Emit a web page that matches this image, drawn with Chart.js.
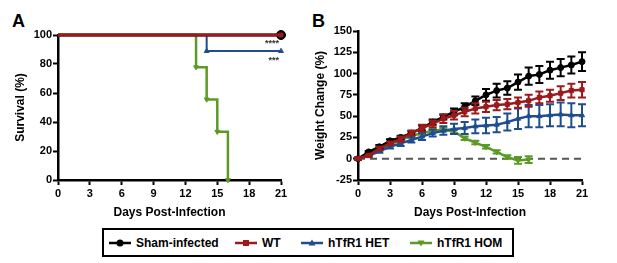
<!DOCTYPE html>
<html>
<head>
<meta charset="utf-8">
<script src="https://cdn.jsdelivr.net/npm/chart.js@4.4.1/dist/chart.umd.min.js"></script>
<style>
  body { margin: 0; background: #fff; font-family: "Liberation Sans", Arial, sans-serif; }
  #wrap { position: relative; width: 617px; height: 263px; }
  .panel { position: absolute; top: 0; }
  .tag { position: absolute; top: 12px; font-size: 18px; font-weight: bold; line-height: 18px; }
  #legend { position: absolute; left: 102px; top: 228px; width: 408px; height: 25px; border: 2px solid #000; }
  .item { position: absolute; top: 0; height: 25px; display: flex; align-items: center; font-size: 12px; font-weight: bold; }
  .item svg { margin-right: 5px; }
</style>
</head>
<body>
<div id="wrap">
  <div class="tag" style="left:12px">A</div>
  <div class="tag" style="left:312px">B</div>
  <canvas id="chartA" class="panel" style="left:0" width="300" height="222"></canvas>
  <canvas id="chartB" class="panel" style="left:300px" width="317" height="222"></canvas>
  <div id="legend"></div>
</div>
<script>
// groups
const groups = ['Sham-infected', 'WT', 'hTfR1 HET', 'hTfR1 HOM'];
const colors = ['#000000', '#9c1a1c', '#1f4e8f', '#5b9b25'];

// panel A: survival (%) at event days
const shamDays = [0, 21], shamSurv = [100, 100];
const wtDays = [0, 21], wtSurv = [100, 100];
const hetDays = [0, 14, 21], hetSurv = [100, 88.9, 88.9];
const homDays = [0, 13, 14, 15, 16], homSurv = [100, 77.8, 55.6, 33.3, 0];
const stars = [['****', 100], ['***', 88.9]];

// panel B: weight change (%) with error bars
const days = [0,1,2,3,4,5,6,7,8,9,10,11,12,13,14,15,16,17,18,19,20,21];
const shamW = [0,8,14,21,25,30,36,43,49,55,61,68,75,80,83,90,97,99,104,107,110,114];
const shamE = [1,1,2,2,2,2,3,3,3,4,4,5,7,8,8,9,10,10,10,10,10,11];
const wtW = [0,4,12,18,23,30,36,41,47,51,55,59,61,63,64,66,68,72,74,77,80,81];
const wtE = [1,1,2,2,3,3,4,4,5,5,5,6,6,6,6,6,7,7,7,8,8,9];
const hetW = [0,3,9,14,18,22,26,30,33,35,36,38,39,40,43,47,50,50,51,52,51,51];
const hetE = [1,1,2,2,3,3,4,4,5,6,7,8,9,9,10,12,13,13,13,14,14,13];
const homW = [0,5,11,17,22,27,30,33,34,32,24,19,14,8,2,-2,-1];
const homE = [1,1,2,2,2,2,2,2,2,2,2,2,2,2,2,4,4];

const pts = (xs, ys) => xs.map((d, i) => ({x: d, y: ys[i]}));
const tickFont = {family: 'Liberation Sans', size: 11, weight: 'bold'};
const titleFont = {family: 'Liberation Sans', size: 12, weight: 'bold'};

function axes(yMin, yMax, yStep, yTitle) {
  const grid = {drawOnChartArea: false, drawTicks: true, tickLength: 5, tickColor: '#000', tickWidth: 2};
  return {
    x: {
      type: 'linear', min: 0, max: 21,
      ticks: {stepSize: 3, color: '#000', font: tickFont, padding: 2, maxRotation: 0},
      grid: grid, border: {color: '#000', width: 2.5},
      title: {display: true, text: 'Days Post-Infection', color: '#000', font: titleFont, padding: {top: 0, bottom: 2}},
      afterFit: s => { s.height = 42; }
    },
    y: {
      min: yMin, max: yMax,
      ticks: {stepSize: yStep, color: '#000', font: tickFont, padding: 1},
      grid: grid, border: {color: '#000', width: 2.5},
      title: {display: true, text: yTitle, color: '#000', font: titleFont, padding: {top: 13, bottom: 0}},
      afterFit: s => { s.width = 58; }
    }
  };
}

const starPlugin = {
  id: 'stars',
  afterDatasetsDraw(chart) {
    const {ctx, scales: {x, y}} = chart;
    ctx.save();
    ctx.font = 'bold 9px "Liberation Sans"';
    ctx.fillStyle = '#333';
    ctx.textAlign = 'right';
    ctx.textBaseline = 'middle';
    stars.forEach(([s, v]) => ctx.fillText(s, x.getPixelForValue(21) - 2, y.getPixelForValue(v) + 9));
    ctx.restore();
  }
};

const errPlugin = {
  id: 'errBars',
  afterDatasetDraw(chart, args) {
    const ds = chart.data.datasets[args.index];
    if (!ds.err) return;
    const {ctx, scales: {y}} = chart;
    ctx.save();
    ctx.strokeStyle = ds.borderColor;
    ctx.lineWidth = 2;
    args.meta.data.forEach((p, i) => {
      const v = ds.data[i].y, e = ds.err[i];
      const t = y.getPixelForValue(v + e), b = y.getPixelForValue(v - e);
      ctx.beginPath();
      ctx.moveTo(p.x, t); ctx.lineTo(p.x, b);
      ctx.moveTo(p.x - 4, t); ctx.lineTo(p.x + 4, t);
      ctx.moveTo(p.x - 4, b); ctx.lineTo(p.x + 4, b);
      ctx.stroke();
    });
    ctx.restore();
  }
};

const styles = [
  {pointStyle: 'circle', rotation: 0},
  {pointStyle: 'rect', rotation: 0},
  {pointStyle: 'triangle', rotation: 0},
  {pointStyle: 'triangle', rotation: 180}
];
const drawOrder = [1, 0, 2, 3];

// Panel A
const survData = [[shamDays, shamSurv], [wtDays, wtSurv], [hetDays, hetSurv], [homDays, homSurv]];
const survWidth = [3, 3, 2, 2.5];
new Chart(document.getElementById('chartA'), {
  type: 'line',
  data: {
    datasets: survData.map(([d, s], i) => ({
      label: groups[i],
      data: pts(d, s),
      stepped: 'before',
      borderColor: colors[i],
      backgroundColor: colors[i],
      borderWidth: survWidth[i],
      pointStyle: styles[i].pointStyle,
      rotation: styles[i].rotation,
      pointRadius: d.map((_, k) => k === 0 ? 0 : (i === 0 ? 4.5 : 2.8)),
      pointBorderWidth: 1,
      order: drawOrder[i],
      clip: false
    }))
  },
  options: {
    responsive: false, animation: false,
    layout: {padding: {left: 0, right: 19, top: 35, bottom: 0}},
    plugins: {legend: {display: false}, tooltip: {enabled: false}},
    scales: axes(0, 100, 20, 'Survival (%)')
  },
  plugins: [starPlugin]
});

// Panel B
const weightData = [[shamW, shamE], [wtW, wtE], [hetW, hetE], [homW, homE]];
const dsB = weightData.map(([w, e], i) => ({
  label: groups[i],
  data: pts(days.slice(0, w.length), w),
  err: e,
  borderColor: colors[i],
  backgroundColor: colors[i],
  borderWidth: 2.5,
  pointStyle: styles[i].pointStyle,
  rotation: styles[i].rotation,
  pointRadius: 3,
  pointBorderWidth: 1,
  order: drawOrder[i],
  clip: false
}));
dsB.push({
  label: 'zero',
  data: pts([0, 21], [0, 0]),
  borderColor: '#555',
  borderWidth: 2,
  borderDash: [7, 5],
  pointRadius: 0,
  order: 10
});
new Chart(document.getElementById('chartB'), {
  type: 'line',
  data: {datasets: dsB},
  options: {
    responsive: false, animation: false,
    layout: {padding: {left: 0, right: 35, top: 31, bottom: 0}},
    plugins: {legend: {display: false}, tooltip: {enabled: false}},
    scales: axes(-25, 150, 25, 'Weight Change (%)')
  },
  plugins: [errPlugin]
});

// shared legend
const legendLeft = [5, 131, 197, 306];
const legend = document.getElementById('legend');
groups.forEach((g, i) => {
  const c = colors[i];
  let mark;
  if (i === 0) mark = `<circle cx="11" cy="5" r="3.5" fill="${c}"/>`;
  else if (i === 1) mark = `<rect x="8" y="2" width="6" height="6" fill="${c}"/>`;
  else if (i === 2) mark = `<polygon points="11,1.5 14.5,7.5 7.5,7.5" fill="${c}"/>`;
  else mark = `<polygon points="7.5,2.5 14.5,2.5 11,8.5" fill="${c}"/>`;
  const el = document.createElement('div');
  el.className = 'item';
  el.style.left = legendLeft[i] + 'px';
  el.innerHTML = `<svg width="22" height="10"><line x1="0" y1="5" x2="22" y2="5" stroke="${c}" stroke-width="2.5"/>${mark}</svg><span>${g}</span>`;
  legend.appendChild(el);
});
</script>
</body>
</html>
